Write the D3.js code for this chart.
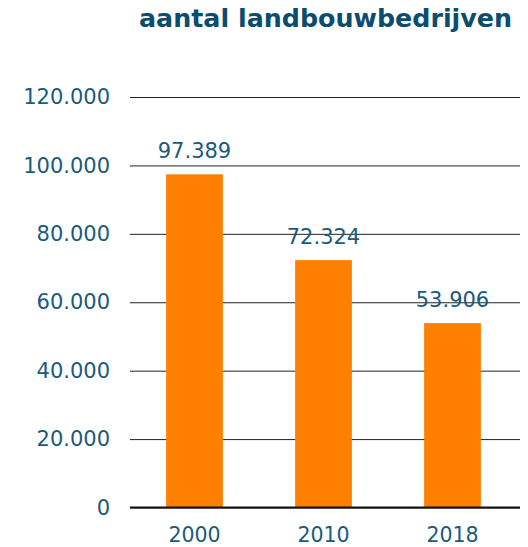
<!DOCTYPE html>
<html><head><meta charset="utf-8">
<script src="https://cdn.jsdelivr.net/npm/d3@7/dist/d3.min.js"></script>
<style>body{margin:0;background:#fff}</style>
</head><body>
<svg id="c" width="528" height="547"></svg>
<script>
const categories = ["2000", "2010", "2018"];
const values = [97389, 72324, 53906];
const yTicks = [0, 20000, 40000, 60000, 80000, 100000, 120000];
const title = "aantal landbouwbedrijven";

const svg = d3.select("#c");
const textColor = "#1a5b7c";
const font = "'DejaVu Sans', Verdana, sans-serif";
const fmt = v => d3.format(",")(v).replace(/,/g, ".");

const x = d3.scaleBand().domain(categories).range([130, 517]).paddingInner(0.56).paddingOuter(0.28);
const y = d3.scaleLinear().domain([0, 120000]).range([507.5, 97]);

svg.append("text").attr("x", 512).attr("y", 27).attr("text-anchor", "end")
  .attr("font-family", font).attr("font-weight", "bold").attr("font-size", 24)
  .attr("textLength", 373).attr("lengthAdjust", "spacingAndGlyphs")
  .attr("fill", "#0b4d6e").text(title);

const yAxis = d3.axisLeft(y).tickValues(yTicks).tickFormat(fmt).tickSize(-390).tickPadding(20);
const ga = svg.append("g").attr("transform", "translate(130,0)").call(yAxis);
ga.select(".domain").remove();
ga.selectAll(".tick line").attr("stroke", "#222").attr("stroke-width", 1);
ga.selectAll(".tick text").attr("font-family", font).attr("font-size", 21).attr("fill", textColor);

svg.selectAll("rect.bar").data(values).enter().append("rect").attr("class", "bar")
  .attr("x", (d, i) => x(categories[i])).attr("width", x.bandwidth())
  .attr("y", d => y(d)).attr("height", d => y(0) - y(d)).attr("fill", "#ff7f00");

svg.append("line").attr("x1", 130).attr("x2", 520).attr("y1", y(0)).attr("y2", y(0))
  .attr("stroke", "#111").attr("stroke-width", 2);

svg.selectAll("text.val").data(values).enter().append("text").attr("class", "val")
  .attr("x", (d, i) => x(categories[i]) + x.bandwidth() / 2).attr("y", d => y(d) - 16)
  .attr("text-anchor", "middle").attr("font-family", font).attr("font-size", 21)
  .attr("fill", textColor).text(fmt);

const xAxis = d3.axisBottom(x).tickSize(0).tickPadding(20);
const gx = svg.append("g").attr("transform", `translate(0,${y(0)})`).call(xAxis);
gx.select(".domain").remove();
gx.selectAll(".tick text").attr("font-family", font).attr("font-size", 20.5).attr("fill", textColor);
</script>
</body></html>
